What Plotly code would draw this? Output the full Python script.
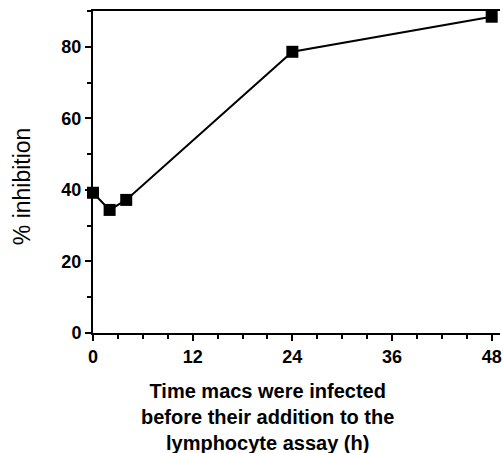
import plotly.graph_objects as go

hours = [0, 2, 4, 24, 48]
inhibition = [39.2, 34.4, 37.2, 78.6, 88.4]
x_ticks = [0, 12, 24, 36, 48]
y_ticks = [0, 20, 40, 60, 80]

fig = go.Figure()
fig.add_trace(go.Scatter(
    x=hours, y=inhibition, mode="lines+markers",
    line=dict(color="black", width=2),
    marker=dict(symbol="square", size=12, color="black"),
    cliponaxis=False, showlegend=False,
))

tickfont = dict(family="Liberation Sans, Arial, sans-serif", size=18, color="black", weight="bold")

fig.update_xaxes(
    range=[0, 49], tickvals=x_ticks, ticktext=[str(v) for v in x_ticks],
    showline=True, linecolor="black", linewidth=2, mirror=True,
    ticks="outside", ticklen=6, tickwidth=1.5, tickcolor="black",
    minor=dict(dtick=3, ticks="outside", ticklen=4, tickwidth=1.5, tickcolor="black"),
    showgrid=False, zeroline=False, tickfont=tickfont,
    ticklabeloverflow="allow",
)
fig.update_yaxes(
    range=[0, 90], tickvals=y_ticks, ticktext=[str(v) for v in y_ticks],
    showline=True, linecolor="black", linewidth=2,
    ticks="outside", ticklen=6, tickwidth=1.5, tickcolor="black",
    minor=dict(dtick=10, ticks="outside", ticklen=4, tickwidth=1.5, tickcolor="black"),
    showgrid=False, zeroline=False, tickfont=tickfont,
)

fig.add_annotation(
    text="Time macs were infected<br>before their addition to the<br>lymphocyte assay (h)",
    xref="paper", yref="paper", x=0.428, y=-0.14, xanchor="center", yanchor="top",
    showarrow=False, align="center",
    font=dict(family="Liberation Sans, Arial, sans-serif", size=20, color="black", weight="bold"),
)
fig.add_annotation(
    text="% inhibition", textangle=-90,
    xref="paper", yref="paper", x=-0.176, y=0.457, xanchor="center", yanchor="middle",
    showarrow=False,
    font=dict(family="Liberation Sans, Arial, sans-serif", size=23, color="black"),
)

fig.update_layout(
    width=503, height=453,
    margin=dict(l=93, r=1, t=11, b=120),
    plot_bgcolor="white", paper_bgcolor="white",
)

fig.write_html("out.html")
